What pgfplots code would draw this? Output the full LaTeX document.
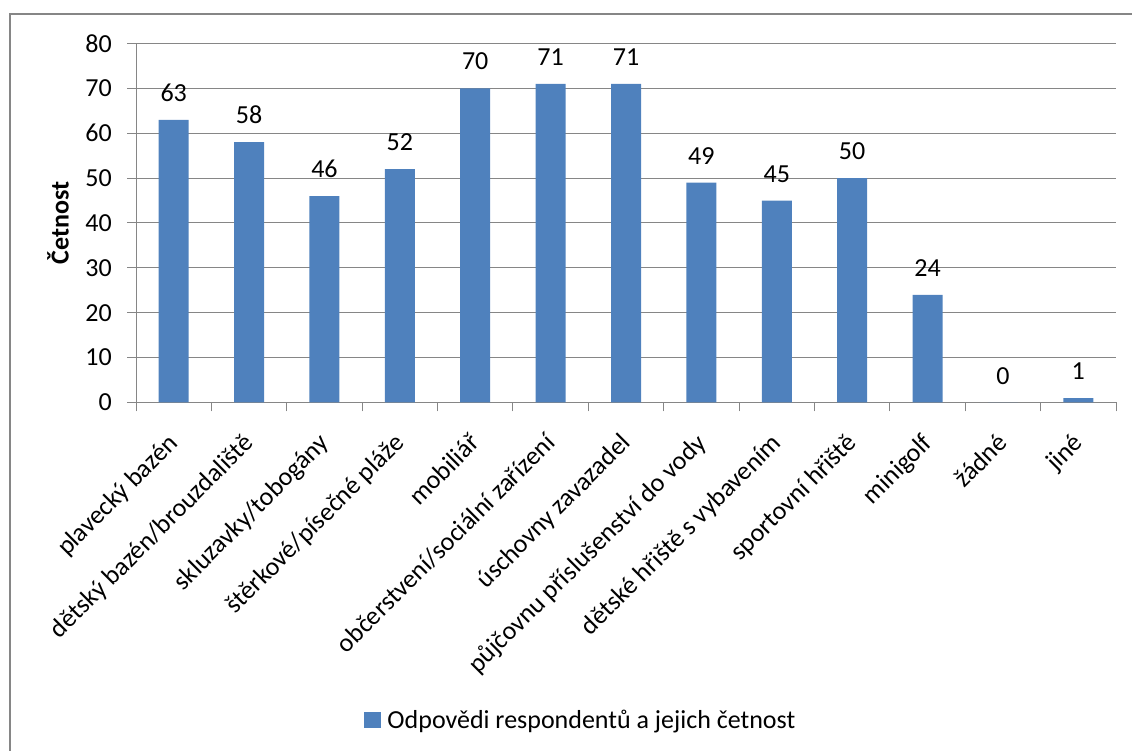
\documentclass[border=0pt]{standalone}
\usepackage{pgfplots}
\pgfplotsset{compat=1.18}
\usepackage{fontspec}
\setmainfont{Carlito}
\definecolor{barblue}{HTML}{4F81BD}
\definecolor{linegray}{HTML}{868686}
\newcommand{\chartfont}{\fontsize{26}{30}\selectfont}
\begin{document}
\begin{tikzpicture}[x=1pt,y=1pt]
\useasboundingbox (0,0) rectangle (1132,751);
% chart frame (cut at right and bottom)
\draw[linegray, line width=1.3pt] (10,-5) -- (10,737) -- (1140,737);
\begin{axis}[
  at={(136pt,348.5pt)}, anchor=south west,
  scale only axis, width=980pt, height=359pt,
  xmin=-0.5, xmax=12.5, ymin=0, ymax=80,
  ybar, bar width=30pt,
  axis x line*=bottom, axis y line*=left,
  axis line style={linegray, line width=1pt, -},
  ymajorgrids, grid style={linegray, line width=1pt},
  ytick={0,10,...,80},
  xtick={-0.5,0.5,...,12.5},
  x tick label as interval,
  xticklabels={plavecký bazén, dětský bazén/brouzdaliště, skluzavky/tobogány,
    štěrkové/písečné pláže, mobiliář, občerstvení/sociální zařízení,
    úschovny zavazadel, půjčovnu příslušenství do vody,
    dětské hřiště s vybavením, sportovní hřiště, minigolf, žádné, jiné},
  tick style={linegray, line width=1pt},
  major tick length=9pt, tick align=outside,
  /pgf/number format/assume math mode=true,
  ticklabel style={font=\chartfont},
  yticklabel style={anchor=east, inner sep=0pt, xshift=-15pt},
  xticklabel style={xshift=-7pt, yshift=-20pt, rotate=45, anchor=north east, inner sep=0pt},
  ylabel={\textbf{Četnost}},
  ylabel style={font=\chartfont, at={(axis description cs:-0.0796,0.5)}, anchor=center},
  nodes near coords,
  every node near coord/.append style={font=\chartfont, anchor=south, inner sep=0pt, yshift=18pt, text=black},
  legend style={at={(axis description cs:0.454,-0.884)}, anchor=center, draw=none, fill=none,
    font=\chartfont, inner sep=0pt},
  legend image code/.code={\fill[barblue] (0pt,-8pt) rectangle (17pt,8pt); \path (21pt,0pt);},
]
\addplot[fill=barblue, draw=none] coordinates {
  (0,63) (1,58) (2,46) (3,52) (4,70) (5,71) (6,71)
  (7,49) (8,45) (9,50) (10,24) (11,0) (12,1)};
\addlegendentry{Odpovědi respondentů a jejich četnost}
\end{axis}
\end{tikzpicture}
\end{document}
